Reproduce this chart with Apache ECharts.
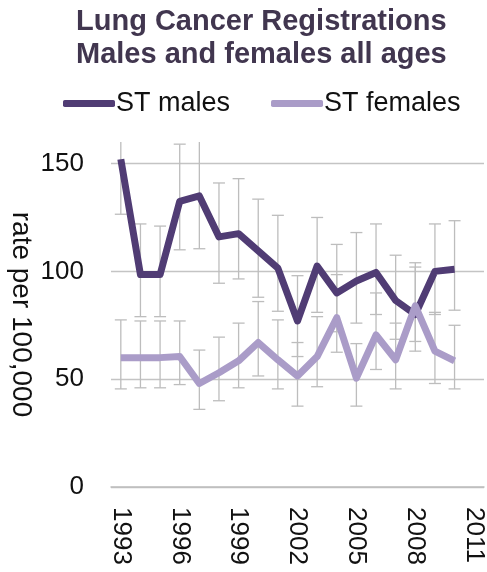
<!DOCTYPE html>
<html>
<head>
<meta charset="utf-8">
<script src="https://cdn.jsdelivr.net/npm/echarts@6/dist/echarts.min.js"></script>
<style>html,body{margin:0;padding:0;background:#fff}#c{width:487px;height:572px}</style>
</head>
<body>
<div id="c"></div>
<script>
const years = ['1993','1994','1995','1996','1997','1998','1999','2000','2001','2002','2003','2004','2005','2006','2007','2008','2009','2010','2011'];
const males      = [152, 98.5, 98.5, 132.5, 135, 116, 117.5, 109.5, 101.5, 77, 102.5, 90, 95.5, 99.5, 86.5, 80, 100, 101];
const malesLow   = [126.5, 79, 79, 110, 110.5, 94.5, 96.5, 88, 81.5, 60.5, 81, 72, 76, 80, 68.5, 63, 80, 82];
const malesHigh  = [178, 122, 121, 159, 162, 141, 143, 133.5, 126, 98, 125, 112.5, 118, 122, 107.5, 102, 122, 123.5];
const females     = [60, 60, 60, 60.5, 48, 53, 58.5, 67, 59, 51.5, 60.5, 78.5, 50.5, 70.5, 59, 84, 63, 58.5];
const femalesLow  = [45.5, 46, 46, 47.5, 36, 40, 46, 51.5, 45.5, 37.5, 46.5, 62.5, 37.5, 54.5, 45.5, 67.5, 48, 45.5];
const femalesHigh = [77.5, 77, 77, 77, 63.5, 69.5, 76, 86, 77.5, 67, 79, 98.5, 66.5, 90, 76, 104, 81, 75];

const maleColor = '#503c74';
const femaleColor = '#aa9cc8';
const barColor = '#bdbdbd';

function errorData(low, high) {
  return low.map((l, i) => [i, l, high[i]]);
}
function renderError(params, api) {
  const i = api.value(0);
  const lo = api.coord([i, api.value(1)]);
  const hi = api.coord([i, api.value(2)]);
  const hw = 6;
  const style = { stroke: barColor, lineWidth: 1.3 };
  return {
    type: 'group',
    children: [
      { type: 'line', shape: { x1: lo[0], y1: lo[1], x2: hi[0], y2: hi[1] }, style },
      { type: 'line', shape: { x1: lo[0] - hw, y1: lo[1], x2: lo[0] + hw, y2: lo[1] }, style },
      { type: 'line', shape: { x1: hi[0] - hw, y1: hi[1], x2: hi[0] + hw, y2: hi[1] }, style }
    ]
  };
}

const chart = echarts.init(document.getElementById('c'));
const font = 'Liberation Sans, Arial, sans-serif';
chart.setOption({
  animation: false,
  backgroundColor: '#fff',
  textStyle: { fontFamily: font },
  title: {
    text: 'Lung Cancer Registrations\nMales and females all ages',
    left: 76,
    top: 5,
    padding: 0,
    textStyle: { fontFamily: font, fontSize: 29, fontWeight: 'bold', color: '#41364f', lineHeight: 33 }
  },
  legend: {
    top: 85,
    left: 58,
    itemWidth: 52,
    itemHeight: 7,
    itemGap: 41,
    textStyle: { fontFamily: font, fontSize: 27, color: '#111', padding: [0, 0, 0, -4] },
    data: [
      { name: 'ST males', icon: 'roundRect' },
      { name: 'ST females', icon: 'roundRect' }
    ]
  },
  grid: { left: 111, right: 3, top: 142, bottom: 85, outerBoundsMode: 'none', containLabel: false },
  xAxis: {
    type: 'category',
    data: years,
    boundaryGap: true,
    axisLine: { show: true, lineStyle: { color: barColor, width: 1.5 } },
    axisTick: { show: false },
    axisLabel: { interval: 2, rotate: -90, margin: 20, fontSize: 26, color: '#111', fontFamily: font }
  },
  yAxis: {
    type: 'value',
    min: 0,
    max: 160,
    interval: 50,
    name: 'rate per 100,000',
    nameLocation: 'middle',
    nameRotate: -90,
    nameGap: 76,
    nameMoveOverlap: false,
    nameTextStyle: { fontSize: 28, color: '#111', fontFamily: font },
    axisLine: { show: false },
    axisTick: { show: false },
    axisLabel: { fontSize: 26, color: '#111', margin: 27, showMaxLabel: false, fontFamily: font },
    splitLine: { show: true, showMaxLine: false, lineStyle: { color: '#c4c4c4', width: 1.3 } }
  },
  series: [
    { name: 'males error', type: 'custom', data: errorData(malesLow, malesHigh), renderItem: renderError, clip: true, z: 1, silent: true },
    { name: 'females error', type: 'custom', data: errorData(femalesLow, femalesHigh), renderItem: renderError, clip: true, z: 1, silent: true },
    { name: 'ST males', type: 'line', data: males, showSymbol: false, z: 3, color: maleColor,
      lineStyle: { color: maleColor, width: 7, join: 'round' } },
    { name: 'ST females', type: 'line', data: females, showSymbol: false, z: 4, color: femaleColor,
      lineStyle: { color: femaleColor, width: 7, join: 'round' } }
  ]
});
</script>
</body>
</html>
